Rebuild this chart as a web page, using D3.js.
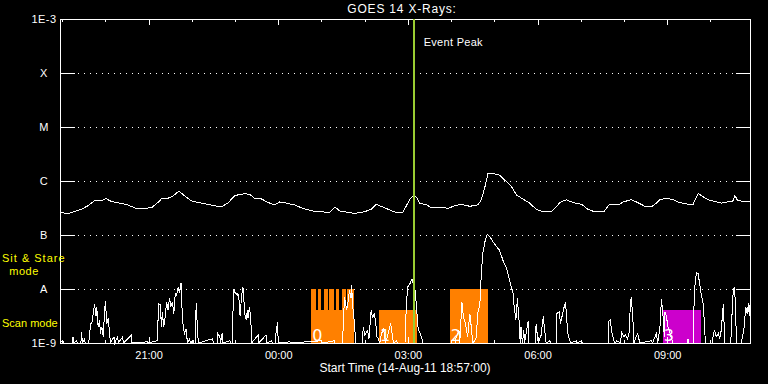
<!DOCTYPE html>
<html>
<head>
<meta charset="utf-8">
<script src="https://cdn.jsdelivr.net/npm/d3@7"></script>
<style>
  body { margin: 0; background: #000; }
  svg { display: block; }
  text { font-family: "Liberation Sans", Arial, sans-serif; }
</style>
</head>
<body>
<div id="chart"></div>
<script>
'use strict';

// ---- data (times are minutes after the start time) ----
const startTime = new Date(2011, 7, 14, 18, 57);
const spanMinutes = 958;
const eventPeakMinute = 491;

const levelValues = [1e-9, 1e-8, 1e-7, 1e-6, 1e-5, 1e-4, 1e-3];
const levelLabels = ["1E-9", "A", "B", "C", "M", "X", "1E-3"];

// 1-8 A channel
const longMin = [0, 11, 20, 30, 39, 48, 57, 64, 71, 83,
    94, 106, 115, 127, 136, 141, 150, 157, 165, 173,
    182, 192, 205, 224, 233, 243, 256, 263, 270, 279,
    289, 298, 305, 314, 326, 335, 349, 363, 374, 382,
    388, 395, 409, 423, 432, 439, 448, 458, 467, 476,
    481, 486, 490, 495, 499, 509, 516, 529, 539, 548,
    557, 569, 580, 585, 590, 594, 604, 610, 620, 627,
    634, 643, 652, 661, 671, 682, 689, 694, 703, 712,
    724, 733, 742, 755, 762, 775, 782, 793, 802, 812,
    821, 828, 833, 842, 851, 860, 872, 879, 886, 893,
    900, 909, 918, 927, 934, 937, 941, 951, 958];
const longFlux = [2.6e-7, 2.5e-7, 2.7e-7, 3.0e-7, 3.5e-7, 4.3e-7, 4.3e-7, 4.7e-7, 4.2e-7, 3.9e-7,
    3.6e-7, 3.1e-7, 3.1e-7, 3.2e-7, 4.0e-7, 4.7e-7, 4.8e-7, 5.3e-7, 6.5e-7, 5.3e-7,
    4.3e-7, 4.0e-7, 3.7e-7, 3.3e-7, 3.9e-7, 5.4e-7, 5.8e-7, 5.7e-7, 4.8e-7, 4.7e-7,
    4.0e-7, 3.6e-7, 4.1e-7, 3.9e-7, 3.6e-7, 3.2e-7, 2.8e-7, 2.7e-7, 2.6e-7, 3.3e-7,
    2.8e-7, 2.7e-7, 2.5e-7, 2.7e-7, 3.0e-7, 3.7e-7, 3.3e-7, 2.9e-7, 2.6e-7, 2.6e-7,
    3.5e-7, 4.6e-7, 5.3e-7, 5.0e-7, 3.9e-7, 3.6e-7, 3.2e-7, 3.3e-7, 3.1e-7, 3.5e-7,
    3.7e-7, 3.4e-7, 3.6e-7, 4.5e-7, 7.8e-7, 1.35e-6, 1.35e-6, 1.29e-6, 9.7e-7, 7.8e-7,
    5.5e-7, 4.6e-7, 3.9e-7, 3.0e-7, 2.7e-7, 2.7e-7, 3.3e-7, 4.0e-7, 4.5e-7, 4.0e-7,
    3.7e-7, 3.0e-7, 2.7e-7, 2.7e-7, 3.6e-7, 3.6e-7, 4.1e-7, 4.5e-7, 4.0e-7, 3.4e-7,
    3.3e-7, 3.9e-7, 4.5e-7, 4.8e-7, 4.5e-7, 4.0e-7, 3.7e-7, 3.7e-7, 5.9e-7, 5.1e-7,
    4.5e-7, 4.2e-7, 3.9e-7, 4.1e-7, 4.2e-7, 5.4e-7, 4.3e-7, 4.2e-7, 4.1e-7];

// 0.5-4 A channel [minute, flux]
const shortXray = [
    [0, 1e-9], [4, 1.1e-9], [5, 1e-9], [17, 1e-9], [18, 1.3e-9], [19, 1e-9], [23, 1.1e-9], [24, 1e-9],
    [29, 1e-9], [30, 1.6e-9], [31, 1e-9], [34, 1.2e-9], [35, 1e-9], [40, 1e-9], [41, 1.5e-9], [43, 2.3e-9],
    [45, 2.5e-9], [46, 3.5e-9], [48, 5.2e-9], [50, 3.1e-9], [51, 4.7e-9], [53, 2.0e-9], [55, 2.7e-9],
    [56, 1.5e-9], [58, 2.0e-9], [60, 1.3e-9], [62, 4.1e-9], [63, 6.0e-9], [65, 2.3e-9], [67, 2.9e-9],
    [68, 2.0e-9], [70, 1e-9], [75, 1.3e-9], [76, 1e-9], [80, 1.3e-9], [81, 1e-9], [87, 1.3e-9], [88, 1e-9],
    [99, 1.4e-9], [100, 1e-9], [121, 1.05e-9], [122, 1e-9], [135, 1.1e-9], [137, 5.4e-9], [139, 5.1e-9],
    [141, 2.0e-9], [142, 3.8e-9], [144, 2.0e-9], [146, 3.1e-9], [148, 5.8e-9], [150, 4.1e-9], [152, 6.7e-9],
    [154, 4.7e-9], [156, 5.8e-9], [158, 3.5e-9], [160, 8.3e-9], [162, 7.7e-9], [164, 1.07e-8], [166, 8.6e-9],
    [168, 1.31e-8], [169, 5.4e-9], [171, 2.0e-9], [173, 1.5e-9], [175, 1.8e-9], [177, 1e-9], [180, 1.2e-9],
    [181, 1e-9], [185, 1.1e-9], [186, 1e-9], [188, 1e-9], [189, 5.4e-9], [192, 1e-9],
    [212, 1.2e-9], [213, 1e-9], [218, 1e-9], [219, 1.5e-9], [222, 1.3e-9], [223, 1e-9], [225, 1.5e-9],
    [226, 1e-9], [236, 1.1e-9], [237, 1e-9], [239, 1e-9], [240, 3.1e-9], [241, 9.9e-9], [243, 8.3e-9],
    [244, 8.6e-9], [246, 7.7e-9], [247, 8.3e-9], [249, 5.8e-9], [250, 3.1e-9], [252, 7.2e-9], [253, 8.9e-9],
    [254, 1.07e-8], [256, 4.7e-9], [257, 3.1e-9], [259, 2.7e-9], [260, 4.1e-9], [261, 2.9e-9], [263, 4.7e-9],
    [265, 2.7e-9], [266, 1e-9], [275, 1.4e-9], [276, 1e-9], [286, 1.4e-9], [287, 1e-9], [294, 1.1e-9],
    [295, 1e-9], [299, 1e-9], [300, 1.6e-9], [302, 2.4e-9], [303, 1e-9], [319, 1.05e-9], [320, 1e-9],
    [363, 1.1e-9], [364, 1e-9], [381, 1.1e-9], [382, 1e-9],
    [392, 1e-9], [393, 1.7e-9], [395, 7.2e-9], [398, 4.1e-9], [400, 5.8e-9], [402, 9.6e-9], [404, 6.7e-9],
    [405, 1.19e-8], [406, 5.4e-9], [408, 3.1e-9], [409, 2.0e-9], [411, 1e-9], [420, 1e-9], [421, 2.0e-9],
    [423, 1.4e-9], [427, 1.7e-9], [429, 1.2e-9], [432, 4.1e-9], [434, 2.9e-9], [436, 3.5e-9], [438, 2.7e-9],
    [440, 1.3e-9], [442, 1.2e-9], [444, 1e-9], [446, 1.4e-9], [449, 1.9e-9], [452, 1e-9], [455, 1.4e-9],
    [459, 2.3e-9], [461, 1.5e-9], [463, 1e-9], [467, 1.1e-9], [469, 1e-9], [479, 1e-9], [481, 5.8e-9],
    [483, 1.1e-8], [486, 1.27e-8], [488, 1.51e-8], [490, 1.47e-8], [491, 5.4e-9], [493, 9.6e-9],
    [495, 4.7e-9], [497, 2.0e-9], [499, 1.6e-9], [502, 1.3e-9], [504, 1e-9], [549, 1e-9], [550, 1.3e-9],
    [554, 1.7e-9], [555, 1e-9], [558, 5.8e-9], [560, 3.1e-9], [563, 2.3e-9], [566, 1.3e-9], [569, 3.5e-9],
    [571, 2.0e-9], [573, 1e-9], [576, 1.1e-9], [578, 1.3e-9],
    [580, 3.5e-9], [583, 5.4e-9], [585, 1.95e-8], [587, 4.6e-8], [590, 7.5e-8], [593, 1.03e-7], [597, 9.3e-8],
    [601, 7.5e-8], [606, 6.1e-8], [610, 5.3e-8], [615, 3.4e-8], [620, 2.4e-8], [624, 1.47e-8], [629, 8.3e-9],
    [630, 5.4e-9], [633, 2.7e-9], [635, 6.7e-9], [637, 3.1e-9], [639, 1e-9], [640, 2.0e-9], [642, 1e-9],
    [644, 1.7e-9], [645, 1e-9], [650, 2.5e-9], [651, 1e-9], [660, 1e-9], [661, 2.2e-9], [664, 1e-9],
    [668, 1.4e-9], [671, 3.1e-9], [673, 1.7e-9], [675, 1e-9], [680, 1.1e-9], [681, 1e-9], [689, 1e-9],
    [690, 3.5e-9], [693, 3.8e-9], [695, 2.3e-9], [697, 3.1e-9], [700, 4.7e-9], [702, 5.6e-9], [703, 3.5e-9],
    [705, 1.5e-9], [707, 1.2e-9], [709, 1e-9], [717, 1.1e-9], [718, 1e-9], [724, 1.1e-9], [725, 1e-9],
    [761, 1e-9], [762, 2.5e-9], [764, 2.7e-9], [766, 1.6e-9], [769, 1.1e-9], [771, 1e-9], [773, 1.1e-9],
    [778, 1e-9], [780, 1.55e-9], [783, 1.3e-9], [785, 1.4e-9], [788, 1.2e-9], [790, 1.5e-9], [791, 3.1e-9],
    [793, 7.2e-9], [795, 3.5e-9], [797, 1e-9], [800, 1.3e-9], [802, 1.5e-9], [805, 1e-9], [821, 1.1e-9],
    [823, 1e-9], [825, 1.2e-9], [828, 1.5e-9], [830, 1e-9], [833, 2.0e-9], [835, 6.4e-9], [837, 3.5e-9],
    [839, 1.3e-9], [840, 3.7e-9], [842, 3.1e-9], [844, 2.0e-9], [846, 1.7e-9], [849, 1.2e-9], [851, 1e-9],
    [871, 1e-9], [872, 1.2e-9], [873, 1e-9], [879, 1e-9], [880, 4.1e-9], [882, 1.47e-8], [884, 2.0e-8],
    [886, 1.95e-8], [888, 1.27e-8], [890, 8.3e-9], [893, 5.4e-9], [895, 2.0e-9], [896, 1e-9], [906, 1e-9],
    [907, 1.5e-9], [909, 1.7e-9], [911, 1.3e-9], [914, 1.5e-9], [916, 1.2e-9], [918, 1.7e-9], [921, 5.2e-9],
    [923, 1e-9], [931, 1e-9], [932, 1.5e-9], [934, 7.2e-9], [936, 1.07e-8], [938, 5.4e-9], [939, 1e-9],
    [946, 1e-9], [950, 2.0e-9], [952, 4.7e-9], [954, 3.5e-9], [956, 5.4e-9], [957, 3.1e-9], [958, 5.1e-9]
];

// observing passes
const passLabels = ["0", "1", "2", "3"];
const passStart = [349, 443, 541, 837];
const scanPass = [0, 1, 3];
const scanStart = [349, 443, 837];
const scanEnd = [408, 495, 890];
const starePass = [0, 0, 0, 0, 0, 0, 0, 2];
const stareStart = [349, 358, 366, 374, 383, 391, 399, 541];
const stareEnd = [355, 363, 372, 380, 388, 397, 408, 594];
const stareTop = 1e-8, scanTop = 4e-9;

// ---- styles ----
const passColors = ["#ff8000", "#ff8000", "#ff8000", "#cc00cc"];
const eventColor = "#9acd32";

const width = 768, height = 384;
const plot = { left: 60, right: 750, top: 19, bottom: 343 };

const svg = d3.select("#chart").append("svg")
    .attr("width", width)
    .attr("height", height)
    .style("background", "#000");

const tm = m => d3.timeMinute.offset(startTime, m);

const x = d3.scaleTime()
    .domain([startTime, tm(spanMinutes)])
    .range([plot.left, plot.right]);

const y = d3.scaleLog()
    .domain([levelValues[0], levelValues[levelValues.length - 1]])
    .range([plot.bottom, plot.top])
    .clamp(true);

// dotted grid
svg.append("g")
    .selectAll("line")
    .data(levelValues.slice(1, -1))
    .join("line")
    .attr("x1", plot.left + 18)
    .attr("x2", plot.right - 14)
    .attr("y1", d => y(d))
    .attr("y2", d => y(d))
    .attr("stroke", "#fff")
    .attr("stroke-dasharray", "1,5")
    .attr("shape-rendering", "crispEdges");

// pass blocks
svg.append("g")
    .selectAll("rect")
    .data(scanStart)
    .join("rect")
    .attr("x", (d, i) => x(tm(d)))
    .attr("width", (d, i) => x(tm(scanEnd[i])) - x(tm(d)))
    .attr("y", y(scanTop))
    .attr("height", y(levelValues[0]) - y(scanTop))
    .attr("fill", (d, i) => passColors[scanPass[i]])
    .attr("shape-rendering", "crispEdges");

svg.append("g")
    .selectAll("rect")
    .data(stareStart)
    .join("rect")
    .attr("x", (d, i) => x(tm(d)))
    .attr("width", (d, i) => x(tm(stareEnd[i])) - x(tm(d)))
    .attr("y", y(stareTop))
    .attr("height", y(levelValues[0]) - y(stareTop))
    .attr("fill", (d, i) => passColors[starePass[i]])
    .attr("shape-rendering", "crispEdges");

svg.append("g")
    .selectAll("text")
    .data(passLabels)
    .join("text")
    .attr("x", (d, i) => x(tm(passStart[i])) + 1)
    .attr("y", y(levelValues[0]) - 2)
    .attr("fill", "#fff")
    .style("font-family", "'DejaVu Sans', sans-serif")
    .style("font-weight", "normal")
    .style("font-size", "16px")
    .text(d => d);

// curves
const line = d3.line()
    .x(d => x(tm(d[0])))
    .y(d => y(d[1]));

svg.append("path")
    .datum(longMin.map((m, i) => [m, longFlux[i]]))
    .attr("d", line)
    .attr("fill", "none")
    .attr("stroke", "#fff")
    .attr("stroke-width", 1)
    .attr("shape-rendering", "crispEdges");

svg.append("path")
    .datum(shortXray)
    .attr("d", line)
    .attr("fill", "none")
    .attr("stroke", "#fff")
    .attr("stroke-width", 1)
    .attr("shape-rendering", "crispEdges");

// axes
function styleAxis(g) {
    g.selectAll("path, line").attr("stroke", "#fff").attr("shape-rendering", "crispEdges");
    g.selectAll("text").attr("fill", "#fff")
        .style("font-family", "'Liberation Sans', Arial, sans-serif")
        .style("font-size", "11px");
}

svg.append("g")
    .attr("transform", "translate(" + plot.left + ",0)")
    .call(d3.axisLeft(y).tickValues(levelValues).tickSizeInner(-15).tickSizeOuter(0)
        .tickFormat((d, i) => levelLabels[i]))
    .call(styleAxis)
    .call(g => g.selectAll("text").attr("x", -16).attr("text-anchor", "middle").attr("dy", "0.36em")
        .style("letter-spacing", "0.5px"));

svg.append("g")
    .attr("transform", "translate(" + plot.right + ",0)")
    .call(d3.axisRight(y).tickValues(levelValues).tickSizeInner(-14).tickSizeOuter(0).tickFormat(""))
    .call(styleAxis);

svg.append("g")
    .attr("transform", "translate(0," + plot.top + ")")
    .call(d3.axisTop(x).ticks(d3.timeHour.every(1)).tickSizeInner(-3).tickSizeOuter(0).tickFormat(""))
    .call(styleAxis);

svg.append("g")
    .attr("transform", "translate(0," + plot.top + ")")
    .call(d3.axisTop(x).ticks(d3.timeHour.every(3)).tickSizeInner(-6).tickSizeOuter(0).tickFormat(""))
    .call(styleAxis);

svg.append("g")
    .attr("transform", "translate(0," + plot.bottom + ")")
    .call(d3.axisBottom(x).ticks(d3.timeHour.every(1)).tickSizeInner(-3).tickSizeOuter(0).tickFormat(""))
    .call(styleAxis);

svg.append("g")
    .attr("transform", "translate(0," + plot.bottom + ")")
    .call(d3.axisBottom(x).ticks(d3.timeHour.every(3)).tickSizeInner(-6).tickSizeOuter(0)
        .tickPadding(8).tickFormat(d3.timeFormat("%H:%M")))
    .call(styleAxis);

// event peak
const xPeak = x(tm(eventPeakMinute));
svg.append("line")
    .attr("x1", xPeak).attr("x2", xPeak)
    .attr("y1", plot.top).attr("y2", plot.bottom)
    .attr("stroke", eventColor)
    .attr("stroke-width", 2)
    .attr("shape-rendering", "crispEdges");

svg.append("text")
    .attr("x", xPeak + 10)
    .attr("y", 46)
    .attr("fill", "#fff")
    .style("font-size", "11px")
    .style("letter-spacing", "0.3px")
    .text("Event Peak");

// titles
svg.append("text")
    .attr("x", 402)
    .attr("y", 13)
    .attr("text-anchor", "middle")
    .attr("fill", "#fff")
    .style("font-size", "12px")
    .style("letter-spacing", "0.8px")
    .text("GOES 14 X-Rays:");

svg.append("text")
    .attr("x", 405)
    .attr("y", 372)
    .attr("text-anchor", "middle")
    .attr("fill", "#fff")
    .style("font-size", "12px")
    .text("Start Time (" + d3.timeFormat("%d-%b-%y %H:%M:%S")(startTime) + ")");

// mode labels
const modeText = svg.append("g")
    .attr("fill", "#ffff00")
    .style("font-size", "11px");
modeText.append("text").attr("x", 2).attr("y", 262).style("letter-spacing", "1px").text("Sit & Stare");
modeText.append("text").attr("x", 24).attr("y", 275).attr("text-anchor", "middle").style("letter-spacing", "0.5px").text("mode");
modeText.append("text").attr("x", 2).attr("y", 327).text("Scan mode");
</script>
</body>
</html>
